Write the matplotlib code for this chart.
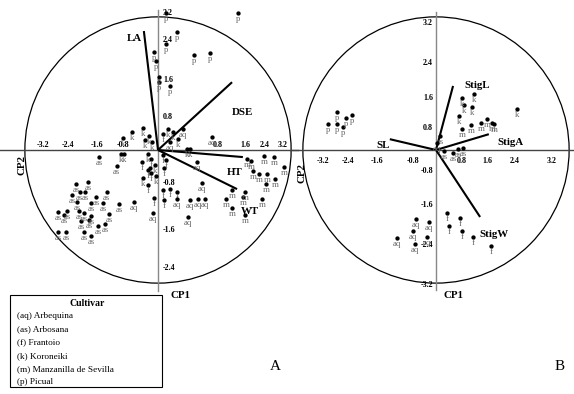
import matplotlib
matplotlib.use("Agg")
import matplotlib.pyplot as plt
import numpy as np
from matplotlib.patches import Circle, Rectangle

plt.rcParams['font.family'] = ['Liberation Serif', 'DejaVu Serif']

# ---- panel A scores (CP1, CP2) by cultivar
A_p = [(0.19, 3.29), (1.92, 3.29), (0.46, 2.84), (0.19, 2.55), (-0.10, 2.36),
       (-0.05, 2.14), (0.87, 2.28), (1.25, 2.33), (0.02, 1.63), (0.29, 1.54)]
A_k = [(0.02, 1.75), (-0.84, 0.29), (-0.63, 0.43), (-0.36, 0.53), (-0.31, 0.24),
       (-0.22, 0.34), (-0.14, 0.19), (0.24, 0.50), (0.36, 0.43), (0.48, 0.26),
       (0.70, 0.02), (0.77, 0.02), (-0.89, -0.10), (-0.82, -0.10), (-0.24, -0.10),
       (-0.07, -0.36), (-0.05, -0.63), (-0.36, -0.67), (-0.19, -0.43)]
A_f = [(0.12, 0.38), (0.12, -0.12), (0.19, -0.24), (0.14, -0.43), (-0.38, -0.29),
       (-0.17, -0.22), (-0.24, -0.48), (-0.17, -0.55), (-0.24, -0.84), (-0.10, -1.15),
       (0.12, -0.96), (0.46, -1.01), (0.29, -0.94), (0.14, -1.20)]
A_aq = [(0.60, 0.50), (0.29, 0.19), (1.30, 0.31), (0.94, -0.29), (1.06, -0.79),
        (0.77, -1.20), (0.95, -1.17), (1.12, -1.17), (0.46, -1.18), (-0.12, -1.51),
        (0.72, -1.61), (-0.58, -1.25)]
A_as = [(-1.42, -0.17), (-0.99, -0.38), (-1.97, -0.82), (-1.68, -0.77), (-1.88, -1.01),
        (-1.75, -1.01), (-1.23, -1.01), (-2.07, -1.08), (-1.49, -1.13), (-1.95, -1.25),
        (-1.61, -1.27), (-1.32, -1.27), (-0.94, -1.30), (-2.40, -1.49), (-2.19, -1.47),
        (-2.26, -1.56), (-1.90, -1.47), (-1.78, -1.51), (-1.61, -1.59), (-1.66, -1.68),
        (-1.44, -1.83), (-1.18, -1.54), (-1.85, -1.71), (-1.27, -1.78), (-2.40, -1.97),
        (-2.21, -1.97), (-1.78, -1.97), (-1.61, -2.07)]
A_m = [(2.14, -0.22), (2.24, -0.26), (2.55, -0.14), (2.79, -0.17), (2.28, -0.50),
       (2.43, -0.58), (2.62, -0.58), (3.03, -0.41), (2.81, -0.70), (2.60, -0.82),
       (1.78, -0.96), (2.09, -1.01), (1.63, -1.18), (2.04, -1.13), (2.50, -1.18),
       (1.78, -1.39), (2.09, -1.56)]

# ---- panel A loadings
A_vars = ['LA', 'DSE', 'HT', 'WT']
A_load = [(-0.34, 2.86), (1.78, 1.63), (2.04, -0.17), (1.90, -0.94)]
A_var_pos = [(-0.58, 2.69), (2.04, 0.91), (1.85, -0.53), (2.21, -1.47)]

# ---- panel B scores
B_p = [(-2.38, 0.91), (-2.60, 0.63), (-2.38, 0.63), (-2.16, 0.77), (-2.24, 0.55), (-2.02, 0.84)]
B_k = [(0.63, 1.25), (0.91, 1.35), (0.67, 1.08), (0.87, 1.03), (0.55, 0.82), (1.95, 0.99)]
B_m = [(0.63, 0.50), (0.84, 0.60), (1.08, 0.65), (1.23, 0.75), (1.35, 0.65), (1.39, 0.63)]
B_as = [(0.10, 0.34), (0.19, -0.02), (0.41, -0.07), (0.53, 0.02), (0.65, 0.05)]
B_aq = [(0.02, 0.17), (-0.48, -1.66), (-0.17, -1.73), (-0.55, -1.95), (-0.94, -2.12),
        (-0.22, -2.09), (-0.50, -2.26)]
B_f = [(0.26, -1.51), (0.58, -1.63), (0.31, -1.83), (0.63, -1.95), (0.89, -2.09), (1.32, -2.31)]

B_vars = ['StigL', 'StigA', 'SL', 'StigW']
B_load = [(0.41, 1.54), (1.27, 0.38), (-1.11, 0.26), (1.06, -1.61)]
B_var_pos = [(0.99, 1.54), (1.78, 0.19), (-1.27, 0.12), (1.39, -2.02)]

# ---- tick labels (text, position along axis)
tick_txt = ['-3.2', '-2.4', '-1.6', '-0.8', '0.8', '1.6', '2.4', '3.2']
A_xtick_pos = [-2.76, -2.16, -1.47, -0.84, 1.44, 2.09, 2.57, 3.00]
A_ytick_txt = ['3.2', '2.4', '1.6', '0.8', '-0.8', '-1.6', '-2.4']
A_ytick_pos = [3.29, 2.64, 1.68, 0.79, -0.79, -1.92, -2.84]
B_xtick_pos = [-2.72, -2.12, -1.42, -0.55, 0.63, 1.23, 1.88, 2.79]
B_ytick_txt = ['3.2', '2.4', '1.6', '0.8', '-0.8', '-1.6', '-2.4', '-3.2']
B_ytick_pos = [3.05, 2.09, 1.25, 0.53, -0.50, -1.32, -2.28, -3.25]

legend_rows = ['(aq) Arbequina', '(as) Arbosana', '(f) Frantoio', '(k) Koroneiki',
               '(m) Manzanilla de Sevilla', '(p) Picual']

W, H = 574, 394
fig = plt.figure(figsize=(W / 100, H / 100), dpi=100)
scale = 41.6  # px per unit

axA = fig.add_axes([0, 94 / H, 300 / W, 300 / H])
axA.set_xlim(-158 / scale, 142 / scale)
axA.set_ylim(-150 / scale, 150 / scale)
axB = fig.add_axes([290 / W, 94 / H, 284 / W, 300 / H])
axB.set_xlim(-146 / scale, 138 / scale)
axB.set_ylim(-150 / scale, 150 / scale)
for ax in (axA, axB):
    ax.set_axis_off()
    ax.add_patch(Circle((0, 0), 3.2, fill=False, lw=0.9, color='black', clip_on=False))


def scores(ax, pts, lab):
    xy = np.array(pts)
    ax.plot(xy[:, 0], xy[:, 1], 'o', ms=2.1, color='black', clip_on=False, zorder=3)
    for x, y in pts:
        ax.text(x, y - 0.05, lab, ha='center', va='top', fontsize=6.3, color='#666666',
                clip_on=False)


def loadings(ax, ends, names, pos):
    for (x, y), n, (tx, ty) in zip(ends, names, pos):
        ax.plot([0, x], [0, y], color='black', lw=1.5, solid_capstyle='butt', zorder=2)
        ax.text(tx, ty, n, ha='center', va='center', fontsize=7.8, fontweight='bold')


# panel A
axA.plot([-3.8, 3.37], [0, 0], color='#444444', lw=1)
axA.plot([0, 0], [-3.39, 3.37], color='#888888', lw=1)
for t, u in zip(tick_txt, A_xtick_pos):
    axA.text(u, 0.12, t, ha='center', va='center', fontsize=5.8, fontweight='bold')
for t, v in zip(A_ytick_txt, A_ytick_pos):
    axA.text(0.12, v, t, ha='left', va='center', fontsize=5.8, fontweight='bold')
loadings(axA, A_load, A_vars, A_var_pos)
scores(axA, A_p, 'p')
scores(axA, A_k, 'k')
scores(axA, A_f, 'f')
scores(axA, A_aq, 'aq')
scores(axA, A_as, 'as')
scores(axA, A_m, 'm')
axA.text(0.53, -3.49, 'CP1', ha='center', va='center', fontsize=7.8, fontweight='bold')
axA.text(-3.27, -0.36, 'CP2', ha='center', va='center', fontsize=7.8, fontweight='bold',
         rotation=90)

# panel B
axB.plot([-3.51, 3.32], [0, 0], color='#444444', lw=1)
axB.plot([0, 0], [-3.37, 3.32], color='#888888', lw=1)
for t, u in zip(tick_txt, B_xtick_pos):
    axB.text(u, -0.26, t, ha='center', va='center', fontsize=5.8, fontweight='bold')
for t, v in zip(B_ytick_txt, B_ytick_pos):
    axB.text(-0.07, v, t, ha='right', va='center', fontsize=5.8, fontweight='bold')
loadings(axB, B_load, B_vars, B_var_pos)
scores(axB, B_p, 'p')
scores(axB, B_k, 'k')
scores(axB, B_m, 'm')
scores(axB, B_as, 'as')
scores(axB, B_aq, 'aq')
scores(axB, B_f, 'f')
axB.text(0.41, -3.49, 'CP1', ha='center', va='center', fontsize=7.8, fontweight='bold')
axB.text(-3.22, -0.55, 'CP2', ha='center', va='center', fontsize=7.8, fontweight='bold',
         rotation=90)

# legend box
fig.patches.append(Rectangle((10 / W, 1 - 387 / H), 152 / W, 92 / H, fill=False,
                             lw=0.8, color='black', transform=fig.transFigure))
fig.text(87 / W, 1 - 303 / H, 'Cultivar', ha='center', va='center', fontsize=7,
         fontweight='bold')
for i, row in enumerate(legend_rows):
    fig.text(17 / W, 1 - (316 + i * 13.3) / H, row, ha='left', va='center', fontsize=6.7)

fig.text(275 / W, 1 - 367 / H, 'A', ha='center', va='center', fontsize=11)
fig.text(560 / W, 1 - 367 / H, 'B', ha='center', va='center', fontsize=11)

fig.savefig('out.png', dpi=100)
